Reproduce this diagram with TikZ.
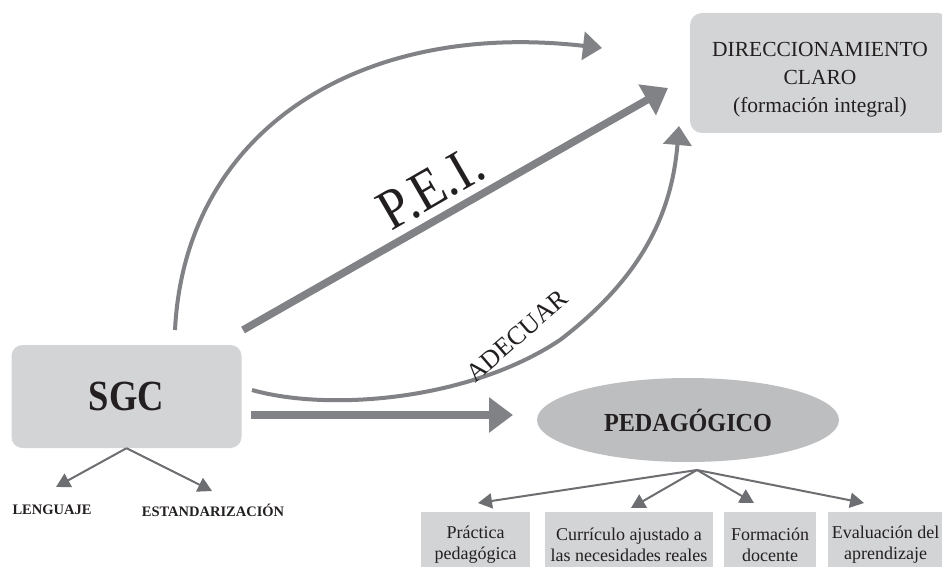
\documentclass[tikz,border=0pt]{standalone}
\usepackage{fontspec}
\setmainfont{Liberation Serif}
\usetikzlibrary{arrows.meta,shapes.geometric}
\definecolor{arrgray}{HTML}{808285}
\definecolor{dkgray}{HTML}{6D6E71}
\definecolor{boxgray}{HTML}{D3D4D6}
\definecolor{ellgray}{HTML}{BCBEC0}
\definecolor{txt}{HTML}{231F20}
\tikzset{
  arrA/.style={draw=arrgray, line width=4pt, -{Triangle[length=19pt,width=28pt]}},
  arrB/.style={draw=arrgray, line width=7.5pt, -{Triangle[length=24pt,width=34pt]}},
  arrC/.style={draw=dkgray, line width=2pt, -{Triangle[length=14pt,width=15pt]}},
  graybox/.style={fill=boxgray, draw=none, inner sep=0pt, text=txt},
  subbox/.style={fill=boxgray, draw=none, inner sep=0pt, minimum height=68pt, anchor=north},
  subtxt/.style={text=txt, align=center, inner sep=0pt, font=\fontsize{18}{21}\selectfont},
  capt/.style={text=txt, inner sep=0pt, font=\bfseries\fontsize{14.5}{14.5}\selectfont}
}
\begin{document}
\begin{tikzpicture}[x=1pt,y=-1pt]
\clip (0,0) rectangle (942,567);
\fill[white] (0,0) rectangle (942,567);

% main boxes
\node[graybox, rounded corners=11pt, minimum width=230pt, minimum height=103pt] (sgc) at (126.5,396.5)
  {\raisebox{-6pt}{\scalebox{0.85}[1]{\fontsize{43}{43}\selectfont\bfseries SGC}}};
\node[graybox, rounded corners=12pt, minimum width=260pt, minimum height=120pt] (dir) at (820,73) {};
\node[text=txt, align=center, inner sep=0pt, font=\fontsize{21.5}{28}\selectfont] (dirt) at (820,80)
  {DIRECCIONAMIENTO\\CLARO\\(formación integral)};
\node[ellipse, fill=ellgray, inner sep=0pt, minimum width=302pt, minimum height=84pt, text=txt] (ped) at (688,420)
  {\scalebox{0.93}[1]{\fontsize{26}{26}\selectfont\bfseries PEDAGÓGICO}};

% sub boxes
\node[subbox, minimum width=109pt] (b1) at (475.5,512) {};
\node[subbox, minimum width=168pt] (b2) at (629,512) {};
\node[subbox, minimum width=92pt] (b3) at (770,512) {};
\node[subbox, minimum width=115pt] (b4) at (885.5,512) {};
\node[subtxt] (t1) at (475.5,545) {Práctica\\pedagógica};
\node[subtxt] (t2) at (629,545) {Currículo ajustado a\\las necesidades reales};
\node[subtxt] (t3) at (770,545) {Formación\\docente};
\node[subtxt] (t4) at (885.5,545) {Evaluación del\\aprendizaje};

% labels under SGC
\node[capt] (len) at (52,510) {LENGUAJE};
\node[capt] (est) at (213,510) {ESTANDARIZACIÓN};

% coordinates
\coordinate (topS) at (175,330);
\coordinate (topE) at (602,48);
\coordinate (peiS) at (243,330);
\coordinate (peiE) at (668,88);
\coordinate (adS) at (252,390);
\coordinate (adM) at (560,340);
\coordinate (adE) at (679,126);
\coordinate (hS) at (251,415);
\coordinate (hE) at (513,415);
\coordinate (pedB) at (697,470);
\coordinate (lenT) at (56,487);
\coordinate (estT) at (212,491);
\coordinate (t1T) at (478,503);
\coordinate (t2T) at (631,508);
\coordinate (t3T) at (754,503);
\coordinate (t4T) at (864,503);

% connectors
\draw[arrA] (topS) .. controls (185,130) and (360,20) .. (topE);
\draw[arrB] (peiS) -- (peiE);
\draw[arrA] (adS) .. controls (330,412) and (470,400) .. (adM) .. controls (645,275) and (672,210) .. (adE);
\draw[arrB] (hS) -- (hE);
\draw[arrC] (sgc.south) -- (lenT);
\draw[arrC] (sgc.south) -- (estT);
\draw[arrC] (pedB) -- (t1T);
\draw[arrC] (pedB) -- (t2T);
\draw[arrC] (pedB) -- (t3T);
\draw[arrC] (pedB) -- (t4T);

% arrow labels
\node[text=txt, rotate=30, inner sep=0pt, font=\fontsize{52}{52}\selectfont] (pei) at (431,188)
  {\scalebox{1}[1.1]{P.E.I.}};
\node[text=txt, rotate=41, inner sep=0pt, font=\fontsize{26}{26}\selectfont] (adec) at (517,336) {ADECUAR};
\end{tikzpicture}
\end{document}
